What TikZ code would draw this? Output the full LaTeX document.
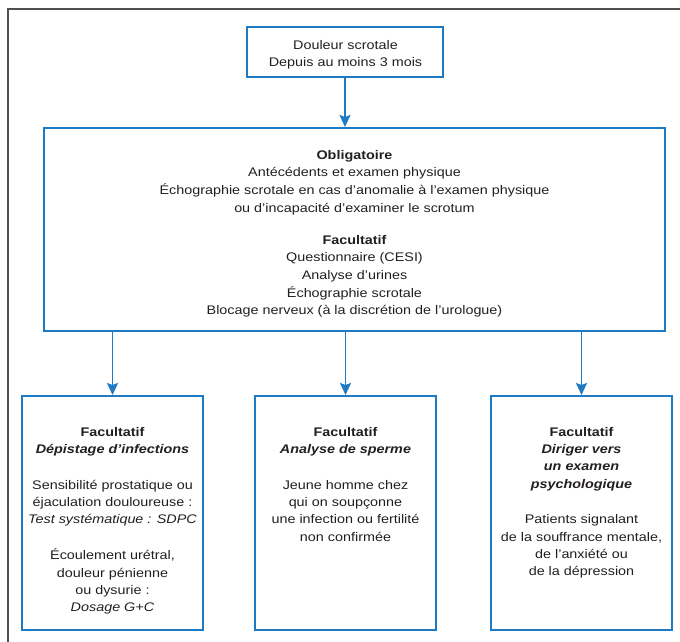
\documentclass[tikz,border=0pt]{standalone}
\usepackage{fontspec}
\setmainfont{Liberation Sans}
\newfontfamily\widefont{Liberation Sans}[FakeStretch=1.15]
\usetikzlibrary{arrows.meta}
\definecolor{bl}{RGB}{30,122,194}
\definecolor{tx}{RGB}{35,31,32}
\definecolor{fr}{RGB}{80,80,80}
\begin{document}
\begin{tikzpicture}[x=1pt,y=-1pt,
  box/.style={draw=bl, line width=2pt, inner sep=0pt},
  txt/.style={align=center, anchor=north, text=tx, inner sep=0pt, font=\widefont\fontsize{12.5}{17.3}\selectfont},
  arr/.style={draw=bl, line width=1.8pt, -{Stealth[length=12pt,width=11pt,inset=2pt]}}]
\useasboundingbox (0,0) rectangle (680,642);
\draw[fr, line width=2pt] (8,643) -- (8,9) -- (681,9);
% boxes
\node[box, minimum width=196pt, minimum height=50pt] (top) at (345,52) {};
\node[box, minimum width=621pt, minimum height=203pt] (big) at (354.5,229.5) {};
\node[box, minimum width=181pt, minimum height=234pt] (b1) at (112.5,513) {};
\node[box, minimum width=181pt, minimum height=234pt] (b2) at (345.5,513) {};
\node[box, minimum width=181pt, minimum height=234pt] (b3) at (581.5,513) {};
% texts
\node[txt, font=\widefont\fontsize{12.5}{17.6}\selectfont] (ttop) at (345.5,40) {Douleur scrotale\\Depuis au moins 3 mois};
\node[txt, font=\widefont\fontsize{12.5}{17.6}\selectfont] (tbig) at (354.5,150) {\textbf{Obligatoire}\\
  Antécédents et examen physique\\
  Échographie scrotale en cas d’anomalie à l’examen physique\\
  ou d’incapacité d’examiner le scrotum\\[14.6pt]
  \textbf{Facultatif}\\
  Questionnaire (CESI)\\
  Analyse d’urines\\
  Échographie scrotale\\
  Blocage nerveux (à la discrétion de l’urologue)};
\node[txt] (tb1) at (112.5,427) {\textbf{Facultatif}\\
  \textbf{\textit{Dépistage d’infections}}\\[18.5pt]
  Sensibilité prostatique ou\\
  éjaculation douloureuse :\\
  \textit{Test systématique : SDPC}\\[18.5pt]
  Écoulement urétral,\\
  douleur pénienne\\
  ou dysurie :\\
  \textit{Dosage G+C}};
\node[txt] (tb2) at (345.5,427) {\textbf{Facultatif}\\
  \textbf{\textit{Analyse de sperme}}\\[18.5pt]
  Jeune homme chez\\
  qui on soupçonne\\
  une infection ou fertilité\\
  non confirmée};
\node[txt] (tb3) at (581.5,427) {\textbf{Facultatif}\\
  \textbf{\textit{Diriger vers}}\\
  \textbf{\textit{un examen}}\\
  \textbf{\textit{psychologique}}\\[18.5pt]
  Patients signalant\\
  de la souffrance mentale,\\
  de l’anxiété ou\\
  de la dépression};
% arrows
\draw[arr] (top.south) -- (top.south |- big.north);
\draw[arr] (b1.north |- big.south) -- (b1.north);
\draw[arr] (b2.north |- big.south) -- (b2.north);
\draw[arr] (b3.north |- big.south) -- (b3.north);
\end{tikzpicture}
\end{document}
